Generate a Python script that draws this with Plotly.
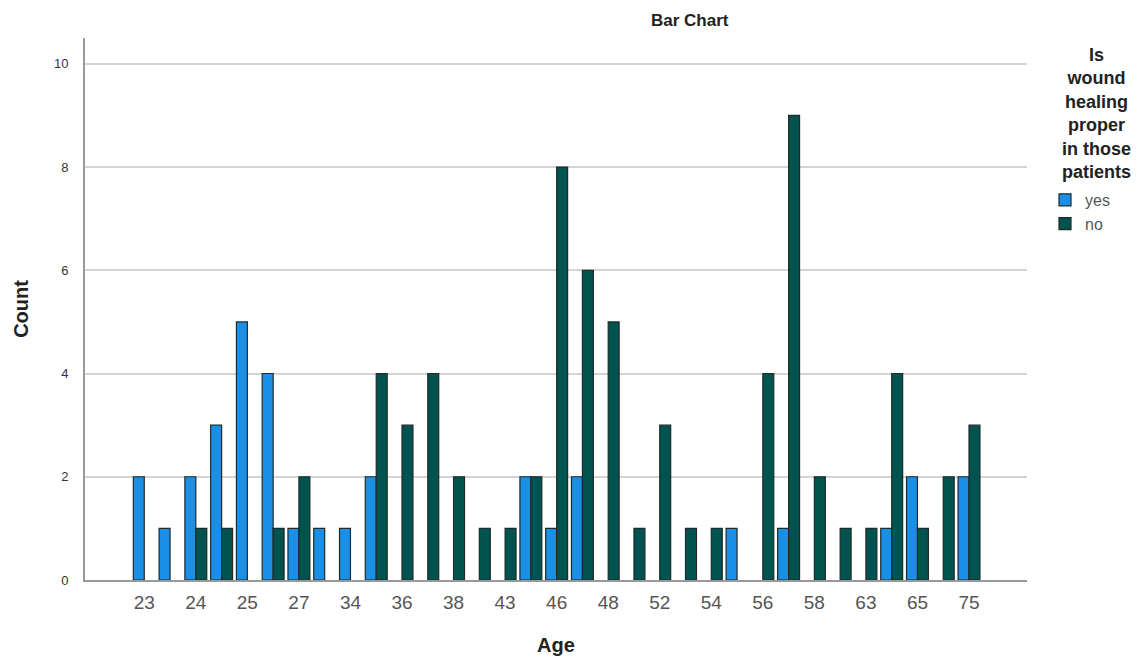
import plotly.graph_objects as go

ages = ["23", "23.5", "24", "24.5", "25", "26", "27", "30", "34", "35",
        "36", "37", "38", "40", "43", "45", "46", "47", "48", "50",
        "52", "53", "54", "55", "56", "57", "58", "60", "63", "64",
        "65", "70", "75"]
yes_counts = [2, 1, 2, 3, 5, 4, 1, 1, 1, 2,
              0, 0, 0, 0, 0, 2, 1, 2, 0, 0,
              0, 0, 0, 1, 0, 1, 0, 0, 0, 1,
              2, 0, 2]
no_counts = [0, 0, 1, 1, 0, 1, 2, 0, 0, 4,
             3, 4, 2, 1, 1, 2, 8, 6, 5, 1,
             3, 1, 1, 0, 4, 9, 2, 1, 1, 4,
             1, 2, 3]
tick_labels = ["23", "24", "25", "27", "34", "36", "38", "43", "46", "48",
               "52", "54", "56", "58", "63", "65", "75"]
tick_positions = ages[::2]
y_ticks = [0, 2, 4, 6, 8, 10]

FONT = "Liberation Sans, Arial, sans-serif"

# plot area in page pixels: x 85..1027, y 38..580 (page body has 8px margin)
def px_x(p):
    return (p - 85) / 942

def px_y(p):
    return (580 - p) / 542

fig = go.Figure()
fig.add_trace(go.Bar(name="yes", x=ages, y=[v if v else None for v in yes_counts],
                     marker=dict(color="#1a8fe6", line=dict(color="#1f2a2a", width=1.2))))
fig.add_trace(go.Bar(name="no", x=ages, y=[v if v else None for v in no_counts],
                     marker=dict(color="#00534f", line=dict(color="#1f2a2a", width=1.2))))

fig.update_layout(
    width=1133, height=651,
    paper_bgcolor="white", plot_bgcolor="white",
    margin=dict(l=77, r=114, t=30, b=79, autoexpand=False),
    barmode="group", bargap=0.15, bargroupgap=0.0,
    font=dict(family=FONT, color="#222"),
    showlegend=True,
    legend=dict(x=px_x(1045), y=px_y(183), xanchor="left", yanchor="top",
                font=dict(size=16, color="#555"), tracegroupgap=0,
                itemwidth=30, bgcolor="rgba(0,0,0,0)"),
    annotations=[
        dict(text="<b>Bar Chart</b>", x=px_x(690), y=px_y(20),
             xref="paper", yref="paper", showarrow=False,
             font=dict(size=17, color="#222"), xanchor="center", yanchor="middle"),
        dict(text="<b>Is<br>wound<br>healing<br>proper<br>in those<br>patients</b>",
             x=px_x(1096), y=px_y(113), xref="paper", yref="paper",
             showarrow=False, align="center", xanchor="center", yanchor="middle",
             font=dict(size=18, color="#222")),
    ],
)
fig.update_xaxes(
    type="category", categoryorder="array", categoryarray=ages,
    tickmode="array", tickvals=tick_positions, ticktext=tick_labels,
    range=[-2.3, 34.25],
    showline=True, linecolor="#999", linewidth=2,
    showgrid=False, ticks="", ticklabelstandoff=4,
    tickfont=dict(size=19, color="#555"),
    title=dict(text="<b>Age</b>", font=dict(size=20, color="#222"), standoff=26),
)
fig.update_yaxes(
    range=[0, 10.5], tickvals=y_ticks,
    showline=True, linecolor="#999", linewidth=2,
    showgrid=True, gridcolor="#d4d4d4", gridwidth=1.5,
    zeroline=False, ticks="", ticklabelstandoff=12,
    tickfont=dict(size=13, color="#333"),
    title=dict(text="<b>Count</b>", font=dict(size=20, color="#222"), standoff=20),
)
fig.write_html("out.html")
